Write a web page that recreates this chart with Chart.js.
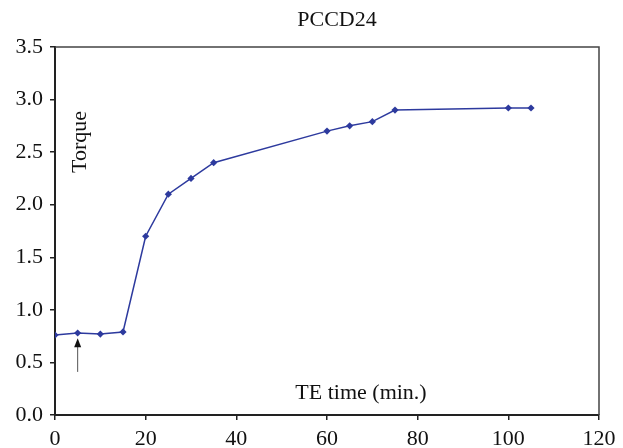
<!DOCTYPE html>
<html>
<head>
<meta charset="utf-8">
<script src="https://cdn.jsdelivr.net/npm/chart.js@4"></script>
<style>
  html, body { margin: 0; padding: 0; background: #fff; }
</style>
</head>
<body>
<canvas id="torque" width="623" height="448"></canvas>
<script>
// TE time (min.) vs torque
const teTime = [0, 5, 10, 15, 20, 25, 30, 35, 60, 65, 70, 75, 100, 105];
const torque = [0.76, 0.78, 0.77, 0.79, 1.70, 2.10, 2.25, 2.40, 2.70, 2.75, 2.79, 2.90, 2.92, 2.92];
const xTicks = [0, 20, 40, 60, 80, 100, 120];
const yTicks = [0.0, 0.5, 1.0, 1.5, 2.0, 2.5, 3.0, 3.5];
// little arrow pointing at the 5 min point
const arrowX = 5;
const arrowFrom = 0.41;
const arrowTo = 0.73;

const serif = "'Liberation Serif', 'Times New Roman', serif";

// box, free-floating labels and the arrow
const extras = {
  id: 'extras',
  afterDraw(chart) {
    const { ctx, chartArea: a, scales } = chart;
    ctx.save();
    ctx.strokeStyle = '#444';
    ctx.lineWidth = 1.5;
    ctx.beginPath();
    ctx.moveTo(a.left, a.top);
    ctx.lineTo(a.right, a.top);
    ctx.lineTo(a.right, a.bottom);
    ctx.stroke();

    ctx.fillStyle = '#111';
    ctx.font = '22px ' + serif;
    ctx.textAlign = 'center';
    ctx.textBaseline = 'middle';
    ctx.fillText('PCCD24', a.left + 282, 20);
    ctx.fillText('TE time (min.)', a.left + 306, a.bottom - 22);

    ctx.save();
    ctx.translate(a.left + 25, a.top + 95);
    ctx.rotate(-Math.PI / 2);
    ctx.fillText('Torque', 0, 0);
    ctx.restore();

    const ax = scales.x.getPixelForValue(arrowX);
    const y0 = scales.y.getPixelForValue(arrowFrom);
    const y1 = scales.y.getPixelForValue(arrowTo);
    ctx.strokeStyle = '#555';
    ctx.lineWidth = 1;
    ctx.beginPath();
    ctx.moveTo(ax, y0);
    ctx.lineTo(ax, y1 + 6);
    ctx.stroke();
    ctx.fillStyle = '#111';
    ctx.beginPath();
    ctx.moveTo(ax, y1);
    ctx.lineTo(ax - 3.5, y1 + 9);
    ctx.lineTo(ax + 3.5, y1 + 9);
    ctx.closePath();
    ctx.fill();
    ctx.restore();
  }
};

new Chart(document.getElementById('torque'), {
  type: 'line',
  data: {
    datasets: [{
      label: 'Torque',
      data: teTime.map((t, i) => ({ x: t, y: torque[i] })),
      borderColor: '#2d3a9e',
      backgroundColor: '#2d3a9e',
      borderWidth: 1.5,
      pointStyle: 'rectRot',
      pointRadius: 3.6,
      pointBorderWidth: 0,
      tension: 0
    }]
  },
  plugins: [extras],
  options: {
    responsive: false,
    animation: false,
    devicePixelRatio: 1,
    layout: { padding: { top: 47, right: 24, left: 0, bottom: 0 } },
    plugins: {
      legend: { display: false },
      tooltip: { enabled: false }
    },
    scales: {
      x: {
        type: 'linear',
        min: 0,
        max: 120,
        afterBuildTicks: s => { s.ticks = xTicks.map(v => ({ value: v })); },
        afterFit: s => { s.height = 33; },
        grid: { drawOnChartArea: false, tickLength: 5, color: '#222', lineWidth: 1.5 },
        border: { color: '#222', width: 2 },
        ticks: { color: '#111', font: { family: serif, size: 22 }, padding: 6, maxRotation: 0 }
      },
      y: {
        min: 0,
        max: 3.5,
        afterBuildTicks: s => { s.ticks = yTicks.map(v => ({ value: v })); },
        afterFit: s => { s.width = 55; },
        grid: { drawOnChartArea: false, tickLength: 5, color: '#222', lineWidth: 1.5 },
        border: { color: '#222', width: 2 },
        ticks: {
          color: '#111',
          font: { family: serif, size: 22 },
          padding: 7,
          callback: v => v.toFixed(1)
        }
      }
    }
  }
});
</script>
</body>
</html>
